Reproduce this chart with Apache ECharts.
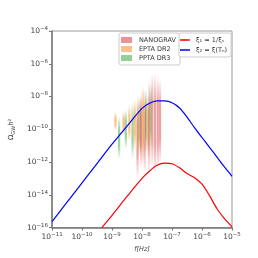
<!DOCTYPE html>
<html><head><meta charset="utf-8">
<script src="https://cdn.jsdelivr.net/npm/echarts@6/dist/echarts.min.js"></script>
<style>html,body{margin:0;padding:0;background:#fff}#c{width:258px;height:258px}</style>
</head><body><div id="c"></div>
<script>
// PTA violins (frequency [Hz], lower and upper extent of Omega h^2)
var nanoFreq = [7.08e-9, 9.33e-9, 1.23e-8, 1.74e-8, 2.21e-8, 2.72e-8, 3.35e-8, 3.98e-8];
var nanoHigh = [6.6e-9, 1.7e-8, 2.6e-8, 1.07e-7, 2.8e-7, 2.8e-7, 1.9e-7, 1.07e-7];
var nanoLow  = [9.3e-14, 3.8e-13, 1.9e-13, 1.9e-13, 3.8e-13, 1.9e-13, 2.8e-13, 7.6e-13];

var eptaFreq = [1.30e-9, 2.43e-9, 3.80e-9, 5.75e-9, 7.59e-9, 1.07e-8, 1.57e-8];
var eptaHigh = [1.07e-9, 1.23e-9, 3.3e-9, 6.6e-9, 1.3e-8, 5.4e-8, 1.3e-8];
var eptaLow  = [8.7e-11, 3.8e-11, 1.9e-11, 6.1e-12, 2.0e-12, 7.6e-13, 1.5e-12];

var pptaFreq = [1.72e-9, 2.88e-9, 4.84e-9, 8.71e-9, 1.36e-8, 1.93e-8];
var pptaHigh = [6.2e-10, 1.6e-9, 4.3e-9, 8.7e-9, 2.6e-8, 5.4e-8];
var pptaLow  = [1.5e-12, 6.1e-12, 1.5e-12, 3.0e-12, 4.1e-12, 6.1e-12];

// model curves
var blueFreq = [1e-11, 3.16e-11, 1e-10, 3.16e-10, 1e-9, 3.16e-9, 1e-8, 1.78e-8, 3.16e-8, 5.62e-8, 1e-7, 1.78e-7, 3.16e-7, 5.62e-7, 1e-6, 1.78e-6, 3.16e-6, 5.62e-6, 1e-5];
var blueOmega = [2.29e-16, 3.55e-15, 5.37e-14, 8.13e-13, 1.23e-11, 1.58e-10, 1.91e-9, 3.9e-9, 5.5e-9, 5.4e-9, 4.17e-9, 2.0e-9, 5.62e-10, 1.26e-10, 3.16e-11, 7.94e-12, 2.0e-12, 5.01e-13, 1.35e-13];
var redFreq = [4.57e-10, 1e-9, 3.16e-9, 1e-8, 1.78e-8, 3.16e-8, 5.62e-8, 1e-7, 1.78e-7, 3.16e-7, 5.62e-7, 1e-6, 1.78e-6, 3.16e-6, 5.62e-6, 1e-5];
var redOmega = [1e-16, 5.62e-16, 7.94e-15, 1e-13, 2.82e-13, 6.31e-13, 8.71e-13, 7.94e-13, 4.47e-13, 2.0e-13, 1.12e-13, 4.47e-14, 8.91e-15, 1.41e-15, 3.55e-16, 1.12e-16];

function zip3(a, b, c) { return a.map(function (v, i) { return [v, b[i], c[i]]; }); }
function zip2(a, b) { return a.map(function (v, i) { return [v, b[i]]; }); }

function violin(rgb, alpha) {
  return function (params, api) {
    var top = api.coord([api.value(0), api.value(2)]);
    var bot = api.coord([api.value(0), api.value(1)]);
    var w = 2.2;
    return {
      type: 'rect',
      shape: { x: top[0] - w / 2, y: top[1], width: w, height: bot[1] - top[1] },
      style: {
        fill: new echarts.graphic.LinearGradient(0, 0, 0, 1, [
          { offset: 0, color: 'rgba(' + rgb + ',0)' },
          { offset: 0.3, color: 'rgba(' + rgb + ',' + alpha + ')' },
          { offset: 0.7, color: 'rgba(' + rgb + ',' + alpha + ')' },
          { offset: 1, color: 'rgba(' + rgb + ',0)' }
        ])
      }
    };
  };
}

function expLabel(v) {
  var e = Math.round(Math.log10(v));
  return '{b|10}{s|' + (e < 0 ? '\u2212' : '') + Math.abs(e) + '}';
}
var rich = {
  b: { fontSize: 7.5, color: '#444', fontFamily: 'DejaVu Sans' },
  s: { fontSize: 5.5, color: '#444', fontFamily: 'DejaVu Sans', padding: [0, 0, 5, 0] }
};

var chart = echarts.init(document.getElementById('c'), null, { renderer: 'canvas' });
chart.setOption({
  animation: false,
  grid: { left: 32, top: 31, right: 26, bottom: 29, show: true, borderColor: '#999', borderWidth: 1 },
  xAxis: {
    type: 'log', logBase: 10, min: 1e-11, max: 1e-5, interval: 1,
    axisLine: { lineStyle: { color: '#777', width: 1.5 } },
    axisTick: { length: 3, lineStyle: { color: '#777' } },
    splitLine: { show: false },
    axisLabel: { formatter: expLabel, rich: rich, margin: 4 },
    name: 'f[Hz]', nameLocation: 'middle', nameGap: 15,
    nameTextStyle: { fontSize: 6.5, color: '#444', fontFamily: 'DejaVu Sans', fontStyle: 'italic' }
  },
  yAxis: {
    type: 'log', logBase: 10, min: 1e-16, max: 1e-4, interval: 2,
    axisLine: { lineStyle: { color: '#777', width: 1.5 } },
    axisTick: { length: 3, lineStyle: { color: '#777' } },
    splitLine: { show: false },
    axisLabel: { formatter: expLabel, rich: rich, margin: 4 },
    name: '{b|\u03A9}{sub|GW}{b|h\u00B2}', nameLocation: 'middle', nameGap: 21,
    nameTextStyle: { rich: {
      b: { fontSize: 7, color: '#333', fontFamily: 'DejaVu Sans' },
      sub: { fontSize: 5, color: '#333', fontFamily: 'DejaVu Sans', padding: [4, 0, 0, 0] }
    } }
  },
  legend: [
    {
      data: ['NANOGRAV', 'EPTA DR2', 'PPTA DR3'], orient: 'vertical', left: 119, top: 33,
      icon: 'rect', itemWidth: 11, itemHeight: 6, itemGap: 1,
      padding: [3, 4, 3, 2], backgroundColor: '#fff', borderColor: '#ccc', borderWidth: 1, borderRadius: 2,
      textStyle: { fontSize: 6.5, color: '#333', fontFamily: 'DejaVu Sans', lineHeight: 8, padding: [0, 0, 0, 2] }
    },
    {
      data: ['\u03BE\u2081 = 1/\u03BE\u209B', '\u03BE\u2082 = \u03BE(T\u2099)'], orient: 'vertical', left: 179, top: 33,
      icon: 'rect', itemWidth: 10, itemHeight: 1.5, itemGap: 2,
      padding: [3, 4, 3, 1], backgroundColor: '#fff', borderColor: '#ccc', borderWidth: 1, borderRadius: 2,
      textStyle: { fontSize: 6.5, color: '#333', fontFamily: 'DejaVu Sans', lineHeight: 8, padding: [0, 0, 0, 1] }
    }
  ],
  series: [
    { name: 'EPTA DR2', type: 'custom', renderItem: violin('255,140,30', 0.55), itemStyle: { color: '#ffbf86' },
      encode: { x: 0, y: [1, 2] }, data: zip3(eptaFreq, eptaLow, eptaHigh), clip: true },
    { name: 'PPTA DR3', type: 'custom', renderItem: violin('60,170,60', 0.5), itemStyle: { color: '#94cf94' },
      encode: { x: 0, y: [1, 2] }, data: zip3(pptaFreq, pptaLow, pptaHigh), clip: true },
    { name: 'NANOGRAV', type: 'custom', renderItem: violin('215,50,55', 0.45), itemStyle: { color: '#ea9393' },
      encode: { x: 0, y: [1, 2] }, data: zip3(nanoFreq, nanoLow, nanoHigh), clip: true },
    { name: '\u03BE\u2081 = 1/\u03BE\u209B', type: 'line', data: zip2(redFreq, redOmega), showSymbol: false, smooth: 0.3,
      lineStyle: { color: '#ff0000', width: 1.2 }, itemStyle: { color: '#ff0000' }, clip: true },
    { name: '\u03BE\u2082 = \u03BE(T\u2099)', type: 'line', data: zip2(blueFreq, blueOmega), showSymbol: false, smooth: 0.3,
      lineStyle: { color: '#0000ff', width: 1.2 }, itemStyle: { color: '#0000ff' }, clip: true }
  ]
});
</script></body></html>
